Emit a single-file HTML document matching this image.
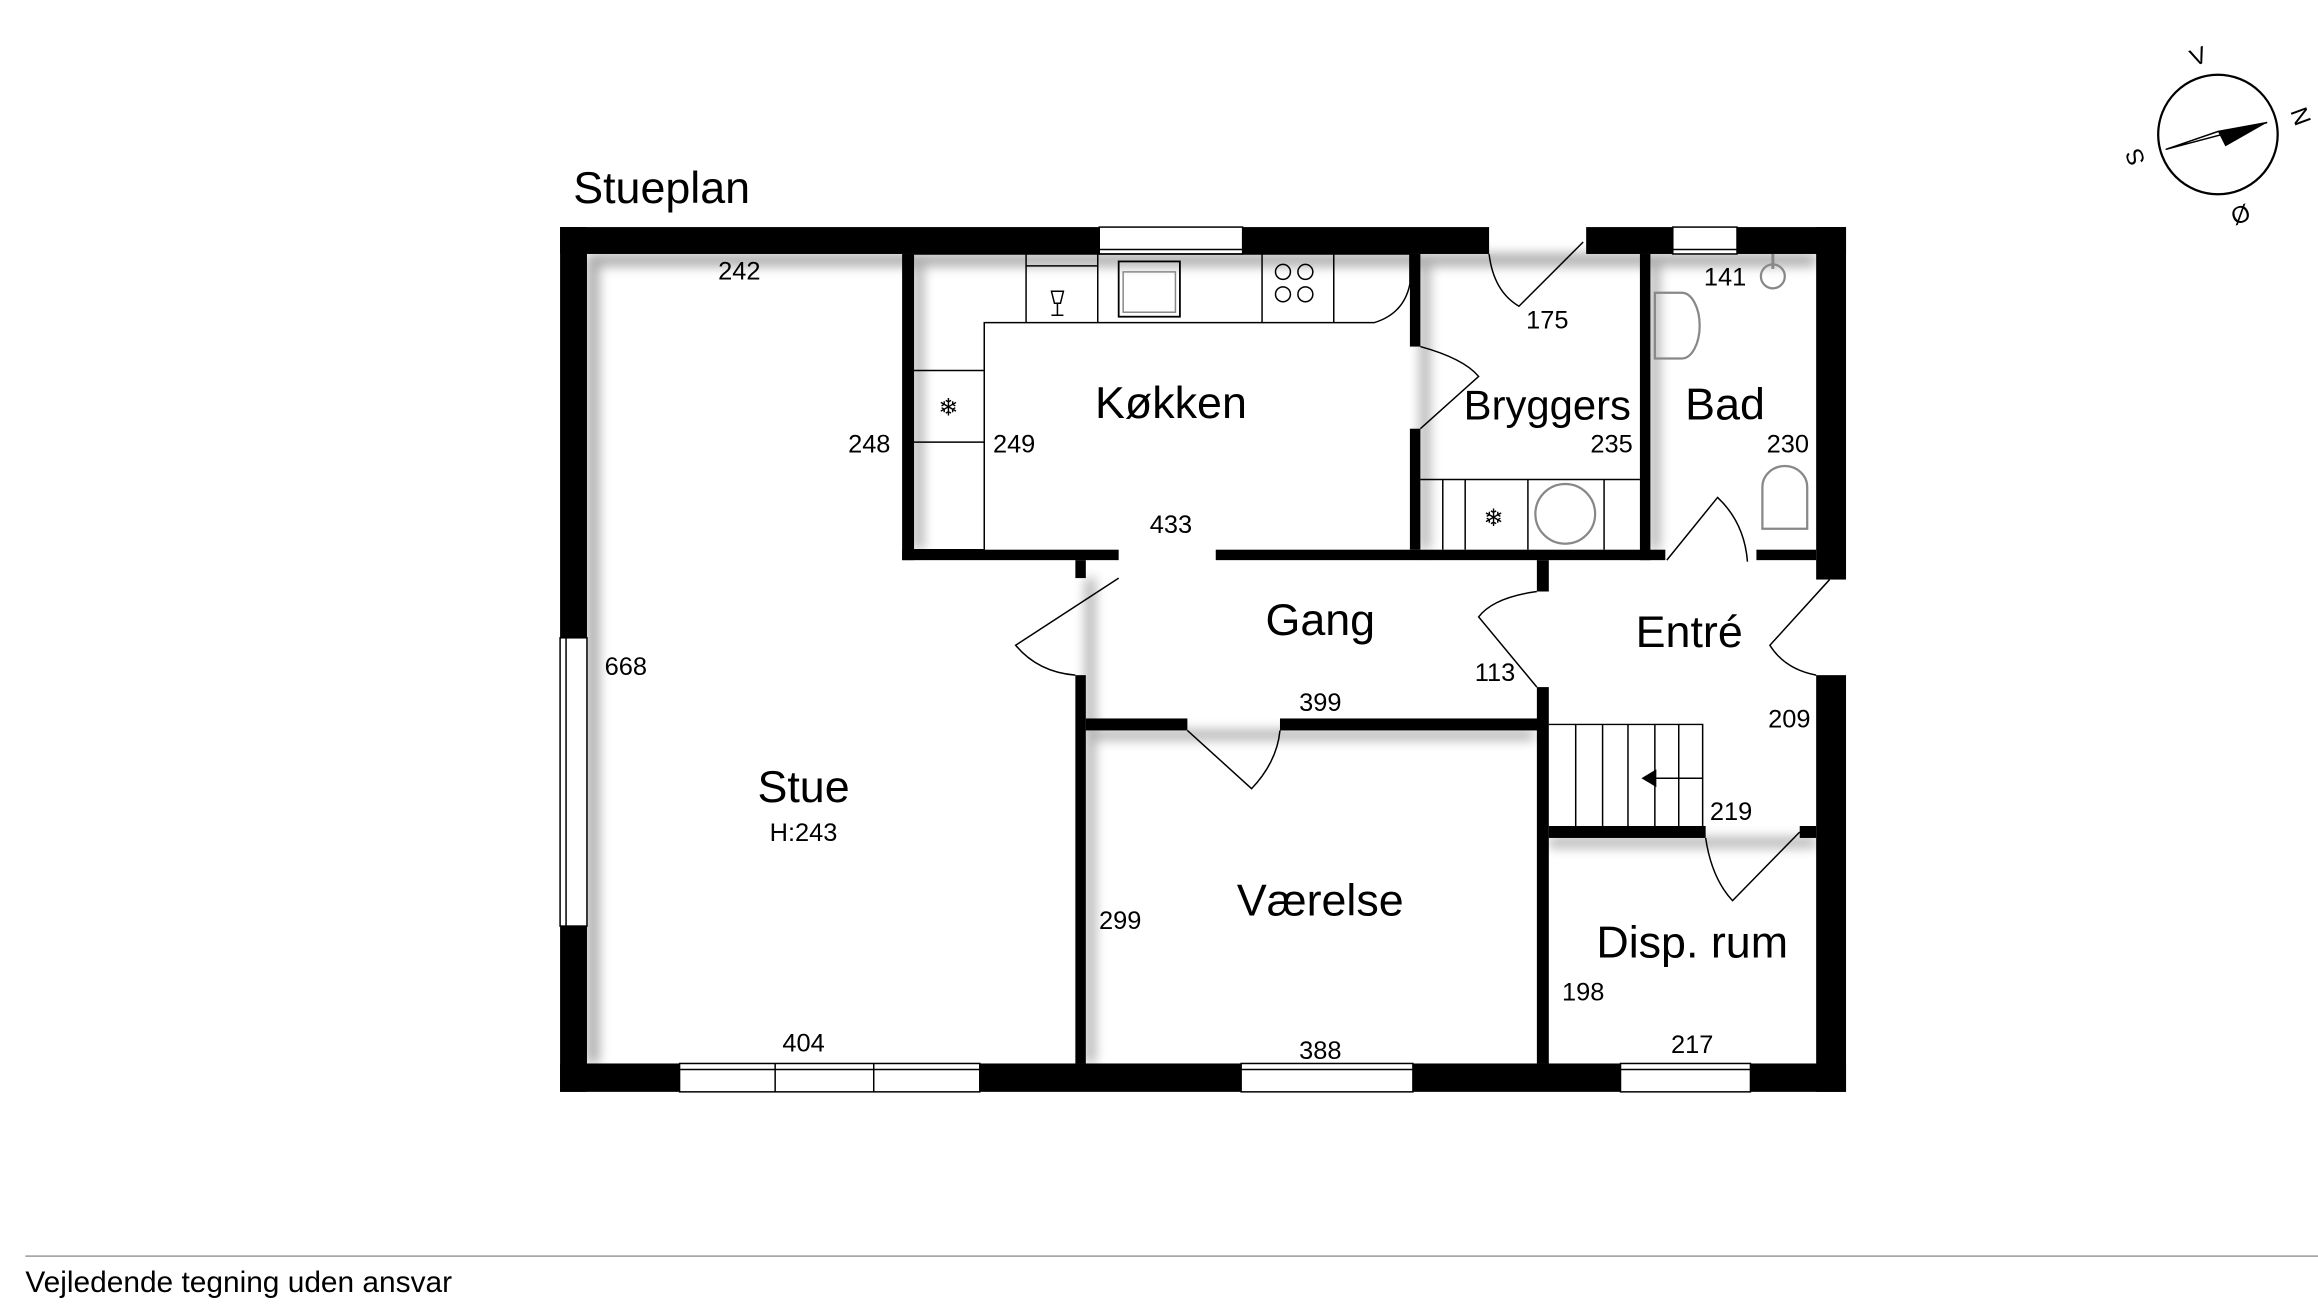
<!DOCTYPE html>
<html><head><meta charset="utf-8"><style>
html,body{margin:0;padding:0;background:#fff;width:2318px;height:1304px;overflow:hidden}
svg{display:block}
text{font-family:"Liberation Sans",sans-serif;fill:#000}
</style></head><body>
<svg width="2318" height="1304" viewBox="0 0 1552 873" xmlns="http://www.w3.org/2000/svg">
<defs><filter id="sh" x="-5%" y="-5%" width="110%" height="110%"><feGaussianBlur stdDeviation="4"/></filter></defs>
<g opacity="0.35" filter="url(#sh)" fill="#000">
<rect x="393" y="170" width="8" height="542"/><rect x="393" y="170" width="823" height="8"/>
<rect x="612" y="170" width="6" height="198"/><rect x="727" y="489" width="300" height="6"/>
<rect x="727" y="387" width="6" height="325"/><rect x="1037" y="561" width="179" height="6"/>
<rect x="1105" y="170" width="6" height="198"/><rect x="951" y="170" width="6" height="198"/>
</g>
<g fill="#000">
<rect x="375" y="152" width="622" height="18"/>
<rect x="1062" y="152" width="174" height="18"/>
<rect x="375" y="152" width="18" height="579"/>
<rect x="375" y="712" width="861" height="19"/>
<rect x="1216" y="152" width="20" height="236"/>
<rect x="1216" y="452" width="20" height="279"/>
<rect x="604" y="170" width="8" height="205"/>
<rect x="604" y="368" width="145" height="7"/>
<rect x="814" y="368" width="301" height="7"/>
<rect x="1176" y="368" width="40" height="7"/>
<rect x="944" y="170" width="7" height="62"/>
<rect x="944" y="287" width="7" height="81"/>
<rect x="1098" y="170" width="7" height="205"/>
<rect x="720" y="375" width="7" height="12"/>
<rect x="720" y="452" width="7" height="260"/>
<rect x="727" y="481" width="68" height="8"/>
<rect x="857" y="481" width="178" height="8"/>
<rect x="1029" y="375" width="8" height="21"/>
<rect x="1029" y="460" width="8" height="252"/>
<rect x="1037" y="553" width="105" height="8"/>
<rect x="1205" y="553" width="11" height="8"/>
</g>
<g fill="#fff" stroke="#000" stroke-width="1">
<rect x="736" y="152" width="96" height="18"/><line x1="736" y1="167" x2="832" y2="167"/>
<rect x="1120" y="152" width="43" height="18"/><line x1="1120" y1="167" x2="1163" y2="167"/>
<rect x="375" y="427" width="18" height="193"/><line x1="379" y1="427" x2="379" y2="620"/>
<rect x="455" y="712" width="201" height="19"/><line x1="455" y1="716" x2="656" y2="716"/><line x1="519" y1="712" x2="519" y2="731"/><line x1="585" y1="712" x2="585" y2="731"/>
<rect x="831" y="712" width="115" height="19"/><line x1="831" y1="716" x2="946" y2="716"/>
<rect x="1085" y="712" width="87" height="19"/><line x1="1085" y1="716" x2="1172" y2="716"/>
</g>
<g fill="none" stroke="#000" stroke-width="1">
<path d="M612 170 H944 V190 Q940 210 920 216 H659 V368 H612"/>
<line x1="687" y1="170" x2="687" y2="216"/><line x1="735" y1="170" x2="735" y2="216"/>
<line x1="845" y1="170" x2="845" y2="216"/><line x1="893" y1="170" x2="893" y2="216"/>
<line x1="612" y1="248" x2="659" y2="248"/><line x1="612" y1="296" x2="659" y2="296"/>
<rect x="749" y="175" width="41" height="37" stroke-width="1.2"/><rect x="752" y="182" width="35" height="27" stroke="#888"/>
<circle cx="859" cy="182" r="5"/><circle cx="874" cy="182" r="5"/><circle cx="859" cy="197" r="5"/><circle cx="874" cy="197" r="5"/>
<line x1="687" y1="178" x2="735" y2="178"/>
<path d="M704 195 h8 l-2 8 h-4 z M708 203 v8 M704 211 h8"/>
<path d="M951 321 H1098"/><line x1="966" y1="321" x2="966" y2="368"/><line x1="981" y1="321" x2="981" y2="368"/><line x1="1023" y1="321" x2="1023" y2="368"/><line x1="1074" y1="321" x2="1074" y2="368"/>
<circle cx="1048" cy="344" r="20" stroke="#888" stroke-width="1.5"/>
<path d="M1108 196 h18 a12 22 0 0 1 0 44 h-18 z" stroke="#888" stroke-width="1.5"/>
<path d="M1180 326 a15 14 0 0 1 30 0 v28 h-30 z" stroke="#888" stroke-width="1.5"/>
<circle cx="1187" cy="185" r="8" stroke="#888" stroke-width="1.5"/><line x1="1187" y1="170" x2="1187" y2="180" stroke="#888" stroke-width="2"/>
<path d="M997 170 Q1000 195 1017 205 L1060 162"/>
<path d="M951 232 Q980 240 990 252 L951 287"/>
<path d="M749 387 L680 432 Q695 450 720 452"/>
<path d="M1029 396 Q1000 400 990 413 L1029 460"/>
<path d="M1116 375 L1150 333 Q1168 350 1170 376"/>
<path d="M1225 388 L1185 432 Q1195 448 1216 452"/>
<path d="M795 489 L838 528 Q855 510 857 489"/>
<path d="M1142 561 Q1146 588 1160 603 L1205 557"/>
<path d="M1037 485 H1140 V553"/>
<line x1="1055" y1="485" x2="1055" y2="553"/><line x1="1073" y1="485" x2="1073" y2="553"/><line x1="1090" y1="485" x2="1090" y2="553"/><line x1="1108" y1="485" x2="1108" y2="553"/><line x1="1124" y1="485" x2="1124" y2="553"/>
<line x1="1102" y1="521" x2="1140" y2="521"/>
</g>
<path d="M1099 521 l10 -6 v12 z" fill="#000"/>
<g font-size="16" text-anchor="middle" fill="#000">
<text x="635" y="278">❄</text><text x="1000" y="352">❄</text>
</g>
<g text-anchor="middle">
<text x="443" y="136" font-size="30">Stueplan</text>
<text x="784" y="280" font-size="30">Køkken</text>
<text x="1036" y="281" font-size="28">Bryggers</text>
<text x="1155" y="281" font-size="30">Bad</text>
<text x="884" y="425" font-size="30">Gang</text>
<text x="1131" y="433" font-size="30">Entré</text>
<text x="538" y="537" font-size="30">Stue</text>
<text x="538" y="563" font-size="17">H:243</text>
<text x="884" y="613" font-size="30">Værelse</text>
<text x="1133" y="641" font-size="30">Disp. rum</text>
</g>
<g font-size="17" text-anchor="middle">
<text x="495" y="187">242</text><text x="1036" y="220">175</text><text x="1155" y="191">141</text>
<text x="582" y="303">248</text><text x="679" y="303">249</text><text x="1079" y="303">235</text><text x="1197" y="303">230</text>
<text x="784" y="357">433</text><text x="419" y="452">668</text><text x="1001" y="456">113</text>
<text x="884" y="476">399</text><text x="1198" y="487">209</text><text x="1159" y="549">219</text>
<text x="750" y="622">299</text><text x="1060" y="670">198</text>
<text x="538" y="704">404</text><text x="884" y="709">388</text><text x="1133" y="705">217</text>
</g>
<g transform="translate(1485,90)">
<circle r="40" fill="#fff" stroke="#000" stroke-width="1.5"/>
<path d="M-35 10 L33 -8 L0 -2 Z" fill="#fff" stroke="#000"/>
<path d="M33 -8 L0 -2 L5 8 Z" fill="#000"/>
<g font-size="16" text-anchor="middle">
<text x="-13" y="-47" transform="rotate(-20 -13 -52)">V</text>
<text x="55" y="-7" transform="rotate(70 55 -12)">N</text>
<text x="15" y="58" transform="rotate(160 15 53)">Ø</text>
<text x="-55" y="20" transform="rotate(-110 -55 15)">S</text>
</g>
</g>
<line x1="17" y1="841" x2="1552" y2="841" stroke="#999" stroke-width="1"/>
<text x="17" y="865" font-size="20">Vejledende tegning uden ansvar</text>
</svg>
</body></html>
